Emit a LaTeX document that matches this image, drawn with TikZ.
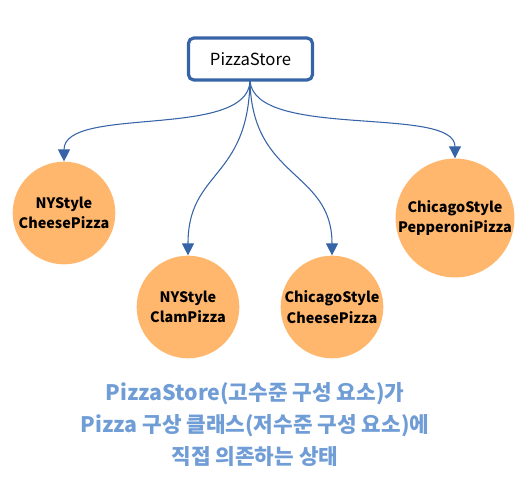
\documentclass[tikz,border=0pt]{standalone}
\usepackage{fontspec}
\setmainfont{Noto Sans CJK KR}
\usetikzlibrary{arrows.meta}
\definecolor{boxblue}{RGB}{54,100,166}
\definecolor{pizza}{RGB}{255,183,110}
\definecolor{noteblue}{RGB}{112,157,213}
\tikzset{
  storebox/.style={draw=boxblue, line width=2.4pt, rounded corners=4pt, fill=white,
    minimum width=93pt, minimum height=31.5pt, font=\fontsize{12.5}{15}\selectfont, inner sep=0pt},
  pizzanode/.style={circle, fill=pizza, draw=none, minimum size=77pt, inner sep=0pt,
    align=center, font=\bfseries\fontsize{10.8}{15.5}\selectfont},
  dep/.style={draw=boxblue, line width=0.8pt, -{Triangle[length=9pt,width=9pt]}},
  note/.style={align=center, text=noteblue, font=\bfseries\fontsize{16}{24}\selectfont}
}
\begin{document}
\begin{tikzpicture}[x=0.75pt,y=-0.75pt]
\useasboundingbox (0,0) rectangle (526,493);
\node[storebox] (store) at (250.5,59) {PizzaStore};
\node[pizzanode] (nycheese) at (64,213) {NYStyle\\CheesePizza};
\node[pizzanode] (nyclam) at (188,307) {NYStyle\\ClamPizza};
\node[pizzanode] (chcheese) at (332,307) {ChicagoStyle\\CheesePizza};
\node[pizzanode] (chpep) at (455,218) {ChicagoStyle\\PepperoniPizza};
\coordinate (src) at (250,81);
\draw[dep] (src) .. controls (248,140) and (64,105) .. (nycheese.north);
\draw[dep] (src) .. controls (248,180) and (188,170) .. (nyclam.north);
\draw[dep] (src) .. controls (252,180) and (332,170) .. (chcheese.north);
\draw[dep] (src) .. controls (255,140) and (455,105) .. (chpep.north);
\node[note] (caption) at (255,425) {PizzaStore(고수준 구성 요소)가\\Pizza 구상 클래스(저수준 구성 요소)에\\직접 의존하는 상태};
\end{tikzpicture}
\end{document}
